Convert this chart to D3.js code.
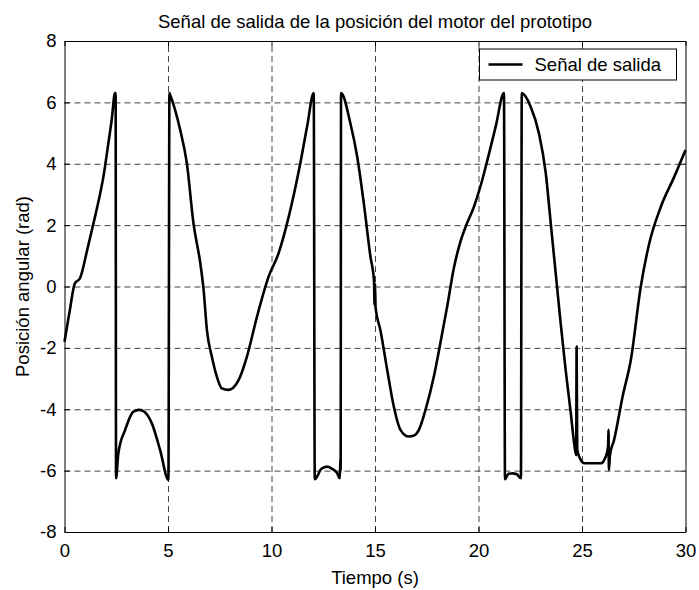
<!DOCTYPE html>
<html>
<head>
<meta charset="utf-8">
<script src="https://cdn.jsdelivr.net/npm/d3@7"></script>
<style>
  body { margin: 0; background: #fff; }
  svg { display: block; font-family: "Liberation Sans", Arial, sans-serif; }
</style>
</head>
<body>
<svg id="chart" width="699" height="590"></svg>
<script>

var title_text = 'Señal de salida de la posición del motor del prototipo';
var x_label = 'Tiempo (s)';
var y_label = 'Posición angular (rad)';
var legend_text = 'Señal de salida';

var x_ticks = [ 0, 5, 10, 15, 20, 25, 30 ];
var y_ticks = [ -8, -6, -4, -2, 0, 2, 4, 6, 8 ];

// vertical jumps are two points at almost the same time
var time = [
    0, 0.25, 0.5, 0.75, 1.1, 1.4, 1.65, 1.88, 2.12, 2.28, 2.44, 2.47,
    2.49, 2.6, 2.93, 3.33, 3.6, 3.81, 4.22, 4.62, 5.02,
    5.07, 5.1, 5.59, 5.91, 6.23, 6.56, 6.72, 6.88, 7.12, 7.36, 7.6, 7.93, 8.15, 8.41,
    8.81, 9.3, 9.86, 10.34, 10.83, 11.39, 11.72, 12.04,
    12.09, 12.15, 12.4, 12.69, 12.95, 13.17, 13.3, 13.33, 13.34,
    13.36, 13.81, 14.14, 14.46, 14.78, 14.95, 14.98, 15.0, 15.03, 15.26, 15.59, 15.91,
    16.23, 16.63, 16.9, 17.12, 17.44, 17.84, 18.17, 18.5, 18.81, 19.1, 19.38, 19.78,
    20.18, 20.43, 20.83, 21.23,
    21.28, 21.45, 21.64, 21.85, 22.05,
    22.09, 22.52, 22.92, 23.25, 23.49, 23.73, 23.97, 24.21, 24.46, 24.62, 24.72, 24.74,
    24.77, 24.94, 25.1, 25.5, 25.91, 26.15, 26.26, 26.28, 26.3, 26.35, 26.55, 26.96,
    27.36, 27.84, 28.25, 28.81, 29.46, 30
];

var position = [
    -1.8, -0.8, 0.1, 0.27, 1.2, 2.06, 2.8, 3.58, 4.67, 5.43, 6.3, 6.3,
    -6.25, -5.44, -4.67, -4.08, -4.02, -4.06, -4.46, -5.33, -6.3,
    6.3, 6.25, 5.1, 4.02, 2.06, 0.76, -0.11, -1.42, -2.29, -2.94, -3.32, -3.37, -3.3, -3.05,
    -2.29, -0.98, 0.32, 1.08, 2.27, 4.01, 5.21, 6.3,
    -6.28, -6.25, -5.95, -5.87, -5.95, -6.08, -6.25, -5.6, -6.0,
    6.3, 5.32, 4.23, 2.71, 0.97, 0.2, -0.6, 0.1, -0.7, -1.42, -2.72, -3.92,
    -4.67, -4.89, -4.85, -4.67, -4.02, -2.94, -1.8, -0.6, 0.6, 1.4, 1.95, 2.6,
    3.47, 4.12, 5.21, 6.3,
    -6.28, -6.1, -6.09, -6.12, -6.25,
    6.3, 5.86, 4.99, 3.69, 2.06, 0.43, -1.2, -2.72, -4.13, -5.11, -5.5, -1.96,
    -5.33, -5.65, -5.76, -5.76, -5.76, -5.54, -5.2, -4.67, -5.98, -5.5, -5.0, -3.59,
    -2.39, 0.0, 1.41, 2.6, 3.58, 4.45
];

var font_size = 18.5;

var margin = { left: 64.5, top: 41, right: 13.5, bottom: 58 };
var svg = d3.select( '#chart' );
var width = +svg.attr( 'width' ) - margin.left - margin.right;
var height = +svg.attr( 'height' ) - margin.top - margin.bottom;

var x = d3.scaleLinear().domain( [ 0, 30 ] ).range( [ 0, width ] );
var y = d3.scaleLinear().domain( [ -8, 8 ] ).range( [ height, 0 ] );

// plain hyphen for negatives, like the original
var plain = function ( d ) { return String( d ); };

var g = svg.append( 'g' )
    .attr( 'transform', 'translate(' + margin.left + ',' + margin.top + ')' );

// grid
g.append( 'g' )
    .attr( 'class', 'grid' )
    .attr( 'transform', 'translate(0,' + height + ')' )
    .call( d3.axisBottom( x ).tickValues( x_ticks.slice( 1, -1 ) ).tickSize( -height ).tickFormat( '' ) );

g.append( 'g' )
    .attr( 'class', 'grid' )
    .call( d3.axisLeft( y ).tickValues( y_ticks.slice( 1, -1 ) ).tickSize( -width ).tickFormat( '' ) );

g.selectAll( '.grid .domain' ).remove();
g.selectAll( '.grid line' )
    .attr( 'stroke', '#444' )
    .attr( 'stroke-width', 1 )
    .attr( 'stroke-dasharray', '6,4' );

// line
var line = d3.line()
    .x( function ( d ) { return x( d[ 0 ] ); } )
    .y( function ( d ) { return y( d[ 1 ] ); } )
    .curve( d3.curveMonotoneX );

g.append( 'path' )
    .datum( d3.zip( time, position ) )
    .attr( 'fill', 'none' )
    .attr( 'stroke', '#000' )
    .attr( 'stroke-width', 2.6 )
    .attr( 'stroke-linejoin', 'round' )
    .attr( 'd', line );

// axes, ticks point inward like the original
var bottom = g.append( 'g' )
    .attr( 'transform', 'translate(0,' + height + ')' )
    .call( d3.axisBottom( x ).tickValues( x_ticks ).tickFormat( plain )
        .tickSizeInner( -5 ).tickSizeOuter( 0 ).tickPadding( 12 ) );

var left = g.append( 'g' )
    .call( d3.axisLeft( y ).tickValues( y_ticks ).tickFormat( plain )
        .tickSizeInner( -5 ).tickSizeOuter( 0 ).tickPadding( 8 ) );

var top_axis = g.append( 'g' )
    .call( d3.axisTop( x ).tickValues( x_ticks ).tickSizeInner( -5 ).tickSizeOuter( 0 ).tickFormat( '' ) );

var right_axis = g.append( 'g' )
    .attr( 'transform', 'translate(' + width + ',0)' )
    .call( d3.axisRight( y ).tickValues( y_ticks ).tickSizeInner( -5 ).tickSizeOuter( 0 ).tickFormat( '' ) );

svg.selectAll( '.domain' ).attr( 'stroke', '#000' ).attr( 'stroke-width', 1 );
[ bottom, left, top_axis, right_axis ].forEach( function ( a ) {
    a.selectAll( 'text' )
        .attr( 'font-family', '"Liberation Sans", Arial, sans-serif' )
        .attr( 'font-size', font_size )
        .attr( 'fill', '#000' );
});

// labels
svg.append( 'text' )
    .attr( 'x', margin.left + width / 2 )
    .attr( 'y', 28 )
    .attr( 'text-anchor', 'middle' )
    .attr( 'font-size', font_size )
    .text( title_text );

svg.append( 'text' )
    .attr( 'x', margin.left + width / 2 )
    .attr( 'y', 584 )
    .attr( 'text-anchor', 'middle' )
    .attr( 'font-size', font_size )
    .text( x_label );

svg.append( 'text' )
    .attr( 'transform', 'translate(29,' + ( margin.top + height / 2 ) + ') rotate(-90)' )
    .attr( 'text-anchor', 'middle' )
    .attr( 'font-size', font_size )
    .text( y_label );

// legend
var legend = g.append( 'g' )
    .attr( 'transform', 'translate(' + ( x( 20 ) + 1 ) + ',8)' );

legend.append( 'rect' )
    .attr( 'width', 197 )
    .attr( 'height', 31 )
    .attr( 'fill', '#fff' )
    .attr( 'stroke', '#000' )
    .attr( 'stroke-width', 1 );

legend.append( 'line' )
    .attr( 'x1', 9 )
    .attr( 'x2', 43 )
    .attr( 'y1', 15.5 )
    .attr( 'y2', 15.5 )
    .attr( 'stroke', '#000' )
    .attr( 'stroke-width', 2.6 );

legend.append( 'text' )
    .attr( 'x', 55 )
    .attr( 'y', 22 )
    .attr( 'font-size', font_size )
    .text( legend_text );

</script>
</body>
</html>
